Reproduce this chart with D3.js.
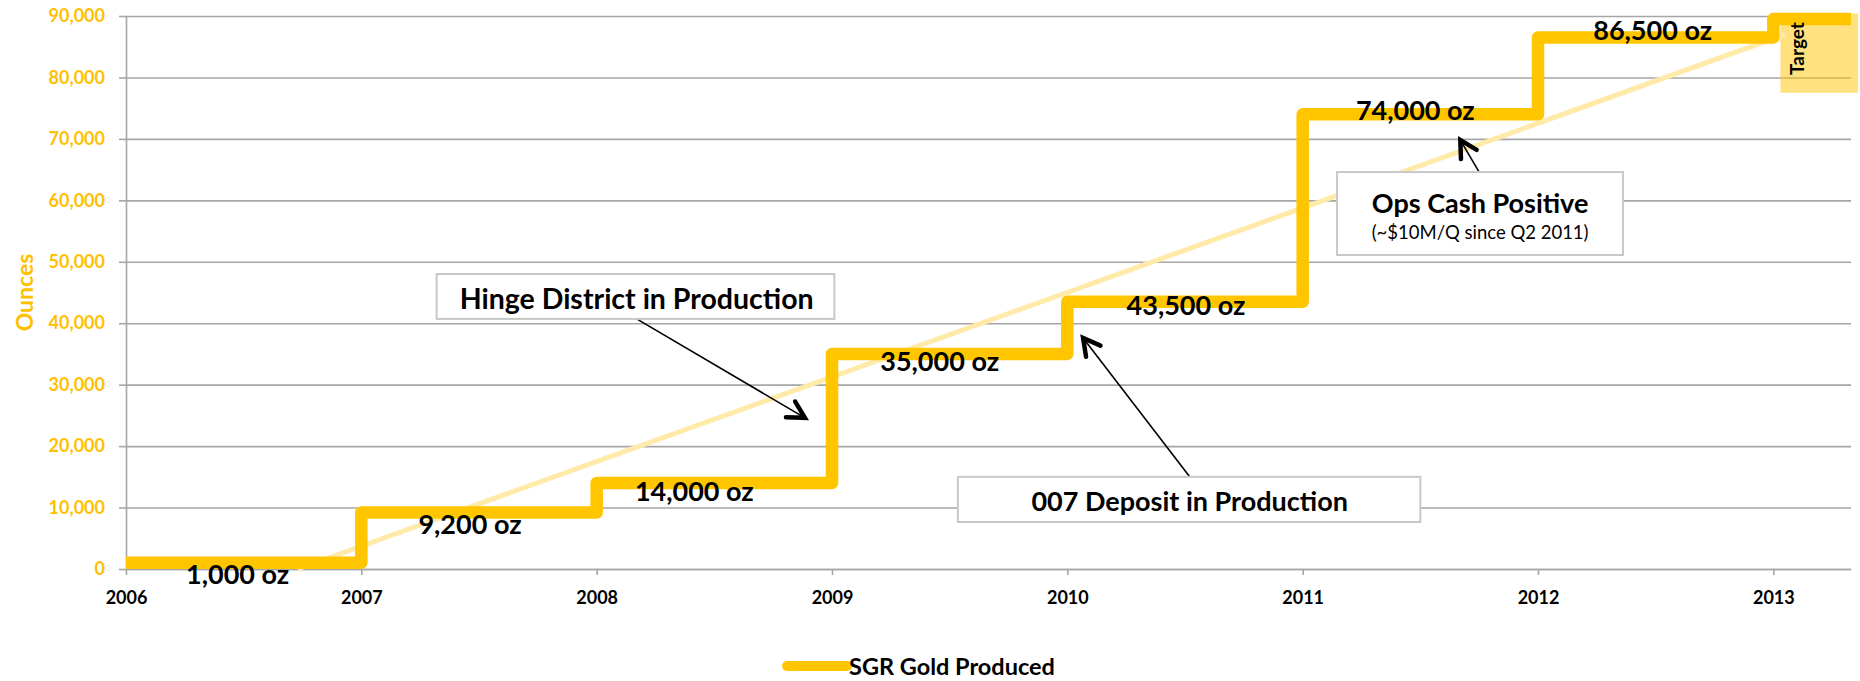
<!DOCTYPE html>
<html>
<head>
<meta charset="utf-8">
<script src="https://cdn.jsdelivr.net/npm/d3@7"></script>
<style>
  body { margin: 0; background: #fff; }
  svg { display: block; font-family: Lato, "Open Sans", sans-serif; }
</style>
</head>
<body>
<div id="chart"></div>
<script>
// Gold production steps, one value per year
const years = [2006, 2007, 2008, 2009, 2010, 2011, 2012, 2013];
const ounces = [1000, 9200, 14000, 35000, 43500, 74000, 86500, 89500];
const stepLabels = ["1,000 oz", "9,200 oz", "14,000 oz", "35,000 oz", "43,500 oz", "74,000 oz", "86,500 oz"];
const axisEndYear = 2013.33;
const yTicks = [0, 10000, 20000, 30000, 40000, 50000, 60000, 70000, 80000, 90000];

// pale trend line (two end points)
const trendYears = [2006.73, 2013.05];
const trendOunces = [0, 87000];

const seriesName = "SGR Gold Produced";
const gold = "#FFC600";

document.addEventListener("DOMContentLoaded", () => {
    const width = 1860;
    const height = 681;
    const plot = { left: 126, right: 1851, top: 16, bottom: 569 };

    const svg = d3.select("#chart")
        .append("svg")
        .attr("width", width)
        .attr("height", height);

    const x = d3.scaleLinear()
        .domain([years[0], axisEndYear])
        .range([plot.left, plot.right]);

    const y = d3.scaleLinear()
        .domain([0, 90000])
        .range([plot.bottom, plot.top]);

    // Gridlines
    svg.append("g")
        .attr("transform", `translate(${plot.left},0)`)
        .call(d3.axisLeft(y).tickValues(yTicks).tickSize(-(plot.right - plot.left)).tickFormat(""))
        .call(g => g.select(".domain").remove())
        .call(g => g.selectAll("line").attr("stroke", "#a6a6a6").attr("stroke-width", 1.6));

    // Y axis
    svg.append("g")
        .attr("transform", `translate(${plot.left},0)`)
        .call(d3.axisLeft(y).tickValues(yTicks).tickSize(7).tickSizeOuter(0).tickPadding(14).tickFormat(d3.format(",")))
        .call(g => g.select(".domain").attr("stroke", "#a6a6a6").attr("stroke-width", 1.6))
        .call(g => g.selectAll("line").attr("stroke", "#a6a6a6").attr("stroke-width", 1.6))
        .call(g => g.selectAll("text")
            .attr("fill", "#FFC000")
            .attr("font-size", 18)
            .attr("font-weight", "bold")
            .attr("font-family", "Lato"));

    // X axis
    svg.append("g")
        .attr("transform", `translate(0,${plot.bottom})`)
        .call(d3.axisBottom(x).tickValues(years).tickSize(6).tickSizeOuter(0).tickPadding(16).tickFormat(d3.format("d")))
        .call(g => g.select(".domain").attr("stroke", "#a6a6a6").attr("stroke-width", 1.6))
        .call(g => g.selectAll("line").attr("stroke", "#a6a6a6").attr("stroke-width", 1.6))
        .call(g => g.selectAll("text")
            .attr("fill", "#000")
            .attr("font-size", 18)
            .attr("font-weight", "bold")
            .attr("font-family", "Lato"));

    // Y axis title
    svg.append("text")
        .attr("transform", `translate(24,${(plot.top + plot.bottom) / 2}) rotate(-90)`)
        .attr("text-anchor", "middle")
        .attr("dominant-baseline", "central")
        .attr("fill", "#FFC000")
        .attr("font-size", 23)
        .attr("font-weight", "bold")
        .text("Ounces");

    // Target box (behind line, semi transparent)
    svg.append("rect")
        .attr("x", x(2013.03))
        .attr("y", y(90400))
        .attr("width", x(2013.36) - x(2013.03))
        .attr("height", y(77500) - y(90400))
        .attr("fill", gold)
        .attr("opacity", 0.5);

    // Trend line
    svg.append("line")
        .attr("x1", x(trendYears[0])).attr("y1", y(trendOunces[0]))
        .attr("x2", x(trendYears[1])).attr("y2", y(trendOunces[1]))
        .attr("stroke", "#FFEAAA")
        .attr("stroke-width", 5);

    // Step line
    const pts = years.map((yr, i) => [yr, ounces[i]]);
    pts.push([axisEndYear, ounces[ounces.length - 1]]);

    const line = d3.line()
        .x(d => x(d[0]))
        .y(d => y(d[1]))
        .curve(d3.curveStepAfter);

    svg.append("path")
        .datum(pts)
        .attr("d", line)
        .attr("fill", "none")
        .attr("stroke", gold)
        .attr("stroke-width", 12.5)
        .attr("stroke-linejoin", "round");

    // Step labels (manual nudges like the original)
    const labelNudge = [[-6, 11], [-9, 11], [-20, 8], [-10, 7], [1, 3], [-5, -5], [-3, -8]];
    svg.selectAll(".step-label")
        .data(stepLabels)
        .enter()
        .append("text")
        .attr("class", "step-label")
        .attr("x", (d, i) => x(years[i] + 0.5) + labelNudge[i][0])
        .attr("y", (d, i) => y(ounces[i]) + labelNudge[i][1])
        .attr("text-anchor", "middle")
        .attr("dominant-baseline", "central")
        .attr("font-size", 27)
        .attr("font-weight", "bold")
        .attr("fill", "#000")
        .text(d => d);

    // "Target" text
    svg.append("text")
        .attr("transform", `translate(${x(2013.1)},${y(84700)}) rotate(-90)`)
        .attr("text-anchor", "middle")
        .attr("dominant-baseline", "central")
        .attr("font-size", 19)
        .attr("font-weight", "bold")
        .text("Target");

    // Callouts
    function arrow(x1, y1, x2, y2) {
        svg.append("line")
            .attr("x1", x1).attr("y1", y1).attr("x2", x2).attr("y2", y2)
            .attr("stroke", "#000").attr("stroke-width", 1.6);
        const a = Math.atan2(y1 - y2, x1 - x2);
        const len = 19, spread = 0.5;
        const p1 = [x2 + len * Math.cos(a + spread), y2 + len * Math.sin(a + spread)];
        const p2 = [x2 + len * Math.cos(a - spread), y2 + len * Math.sin(a - spread)];
        svg.append("path")
            .attr("d", `M${p1}L${x2},${y2}L${p2}`)
            .attr("fill", "none")
            .attr("stroke", "#000")
            .attr("stroke-width", 4.5)
            .attr("stroke-linecap", "round")
            .attr("stroke-linejoin", "miter");
    }

    function box(x0, x1, o0, o1) {
        svg.append("rect")
            .attr("x", x(x0)).attr("y", y(o1))
            .attr("width", x(x1) - x(x0)).attr("height", y(o0) - y(o1))
            .attr("fill", "#fff")
            .attr("stroke", "#c8c8c8")
            .attr("stroke-width", 2);
    }

    // Hinge District
    arrow(x(2008.17), y(40700), x(2008.885), y(24600));
    box(2007.32, 2009.01, 40700, 48000);
    svg.append("text")
        .attr("x", x(2008.17)).attr("y", y(44100))
        .attr("text-anchor", "middle").attr("dominant-baseline", "central")
        .attr("font-size", 28.5).attr("font-weight", "bold")
        .text("Hinge District in Production");

    // 007 Deposit
    arrow(x(2010.52), y(15000), x(2010.067), y(37600));
    box(2009.535, 2011.5, 7650, 15000);
    svg.append("text")
        .attr("x", x(2010.52)).attr("y", y(11200))
        .attr("text-anchor", "middle").attr("dominant-baseline", "central")
        .attr("font-size", 27).attr("font-weight", "bold")
        .text("007 Deposit in Production");

    // Ops cash positive
    arrow(x(2011.75), y(64600), x(2011.67), y(69800));
    box(2011.146, 2012.361, 51100, 64600);
    svg.append("text")
        .attr("x", x(2011.754)).attr("y", y(59700))
        .attr("text-anchor", "middle").attr("dominant-baseline", "central")
        .attr("font-size", 27).attr("font-weight", "bold")
        .text("Ops Cash Positive");
    svg.append("text")
        .attr("x", x(2011.754)).attr("y", y(54800))
        .attr("text-anchor", "middle").attr("dominant-baseline", "central")
        .attr("font-size", 18.5)
        .text("(~$10M/Q since Q2 2011)");

    // Legend
    const legend = svg.append("g").attr("transform", "translate(787,666)");
    legend.append("line")
        .attr("x1", 0).attr("x2", 60)
        .attr("stroke", gold).attr("stroke-width", 10).attr("stroke-linecap", "round");
    legend.append("text")
        .attr("x", 62)
        .attr("dominant-baseline", "central")
        .attr("font-size", 23.5)
        .attr("font-weight", "bold")
        .text(seriesName);
});
</script>
</body>
</html>
